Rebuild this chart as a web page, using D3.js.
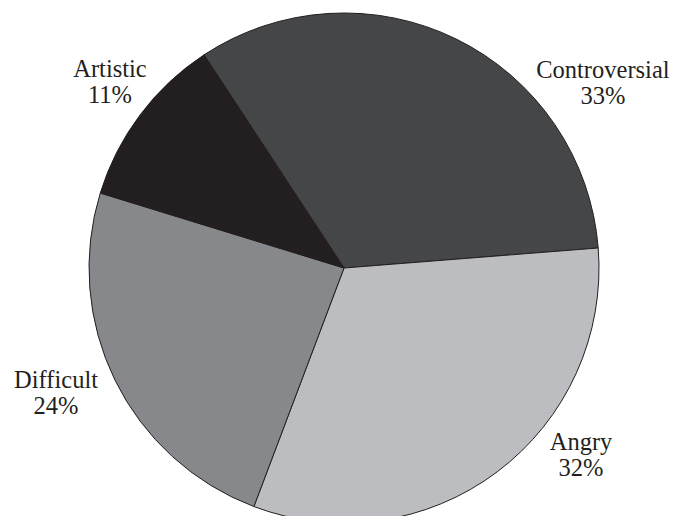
<!DOCTYPE html>
<html>
<head>
<meta charset="utf-8">
<script src="https://cdn.jsdelivr.net/npm/d3@7"></script>
<style>
  html, body { margin: 0; padding: 0; background: #ffffff; }
  svg { display: block; }
</style>
</head>
<body>
<svg id="chart" width="685" height="516"></svg>
<script>
// ---- data ----
const categories = ["Controversial", "Angry", "Difficult", "Artistic"];
const percents = [33, 32, 24, 11];
const colors = ["#454648", "#bcbdc0", "#87888b", "#231f20"];

// ---- layout ----
const width = 685, height = 516;
const cx = 344, cy = 268, radius = 255;
const startDeg = -33.3;
// label anchors, polar (degrees clockwise from 12 o'clock, distance from centre)
const labelPolar = [[54.5, 318], [128.3, 302], [246.5, 314], [308.5, 299]];

const svg = d3.select("#chart");
const g = svg.append("g").attr("transform", `translate(${cx},${cy})`);

const pie = d3.pie().sort(null).value(d => d)
  .startAngle(startDeg * Math.PI / 180)
  .endAngle(startDeg * Math.PI / 180 + 2 * Math.PI);
const arc = d3.arc().innerRadius(0).outerRadius(radius);

g.selectAll("path.slice")
  .data(pie(percents))
  .join("path")
  .attr("class", "slice")
  .attr("d", arc)
  .attr("fill", (d, i) => colors[i])
  .attr("stroke", "#231f20")
  .attr("stroke-width", 1)
  .attr("stroke-linejoin", "round");

const labels = g.selectAll("text.lbl")
  .data(categories)
  .join("text")
  .attr("class", "lbl")
  .attr("text-anchor", "middle")
  .attr("font-family", "'Liberation Serif', 'Times New Roman', serif")
  .attr("font-size", 24.5)
  .attr("fill", "#231f20")
  .attr("transform", (d, i) => {
    const a = labelPolar[i][0] * Math.PI / 180, r = labelPolar[i][1];
    return `translate(${r * Math.sin(a)},${-r * Math.cos(a)})`;
  });
labels.append("tspan").attr("x", 0).attr("y", -5).text(d => d);
labels.append("tspan").attr("x", 0).attr("y", 21).text((d, i) => percents[i] + "%");
</script>
</body>
</html>
